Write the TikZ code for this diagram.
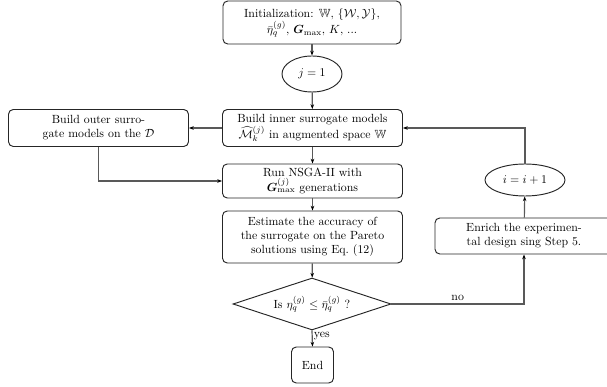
\documentclass[tikz,border=0pt]{standalone}
\usepackage{amsmath,amssymb,bm}
\usetikzlibrary{shapes.geometric,arrows.meta}
\def\pxu{0.845pt}
\tikzset{
  box/.style={draw=black!85, line width=0.8pt, rounded corners=4pt, align=center, inner sep=2pt},
  oval/.style={draw=black!85, line width=0.8pt, ellipse, inner sep=1pt},
  dia/.style={draw=black!85, line width=0.8pt, diamond, aspect=3, inner sep=0pt},
  conn/.style={draw=black!65, line width=1pt, -{Stealth[length=4pt,width=3pt,black]}},
}
\begin{document}
\begin{tikzpicture}[x=\pxu, y=-\pxu]
\useasboundingbox (0,0) rectangle (607,387);
\node[box, minimum width=178*\pxu, minimum height=43*\pxu] (init) at (312,22.5)
  {Initialization: $\mathbb{W}$, $\{\mathcal{W},\mathcal{Y}\}$,\\ $\bar{\eta}_q^{(g)}$, $\bm{G}_{\max}$, $K$, ...};
\node[oval, minimum width=60*\pxu, minimum height=36*\pxu] (j1) at (312,74) {$j=1$};
\node[box, minimum width=180*\pxu, minimum height=37*\pxu] (inner) at (312.5,128)
  {Build inner surrogate models\\ $\widehat{\mathcal{M}}_k^{(j)}$ in augmented space $\mathbb{W}$};
\node[box, minimum width=180*\pxu, minimum height=37*\pxu] (left) at (98.5,128)
  {Build outer surro-\\ gate models on the $\mathcal{D}$};
\node[box, minimum width=180*\pxu, minimum height=34*\pxu] (nsga) at (312.5,181)
  {Run NSGA-II with\\ $\bm{G}_{\max}^{(j)}$ generations};
\node[box, minimum width=180*\pxu, minimum height=52*\pxu] (est) at (312.5,237)
  {Estimate the accuracy of\\ the surrogate on the Pareto\\ solutions using Eq.~(12)};
\node[dia, minimum width=158*\pxu, minimum height=52*\pxu] (dec) at (312,304)
  {Is $\eta_q^{(g)}\leq\bar{\eta}_q^{(g)}$ ?};
\node[box, minimum width=42*\pxu, minimum height=36*\pxu] (end) at (312.5,365) {End};
\node[box, minimum width=178*\pxu, minimum height=36*\pxu] (enrich) at (524,236)
  {Enrich the experimen-\\ tal design sing Step 5.};
\node[oval, minimum width=80*\pxu, minimum height=32*\pxu] (iinc) at (525,180) {$i=i+1$};

\draw[conn] (init) -- (j1);
\draw[conn] (j1) -- (inner);
\draw[conn] (inner) -- (left);
\draw[conn] (left.south) |- (nsga.west);
\draw[conn] (inner) -- (nsga);
\draw[conn] (nsga) -- (est);
\draw[conn] (est) -- (dec);
\draw[conn] (dec.south) -- node[pos=0.35, right, inner sep=1pt] {yes} (end.north);
\draw[conn] (dec.east) -| node[pos=0.25, above, inner sep=2pt] {no} (enrich.south);
\draw[conn] (enrich) -- (iinc);
\draw[conn] (iinc.north) |- (inner.east);
\end{tikzpicture}
\end{document}
